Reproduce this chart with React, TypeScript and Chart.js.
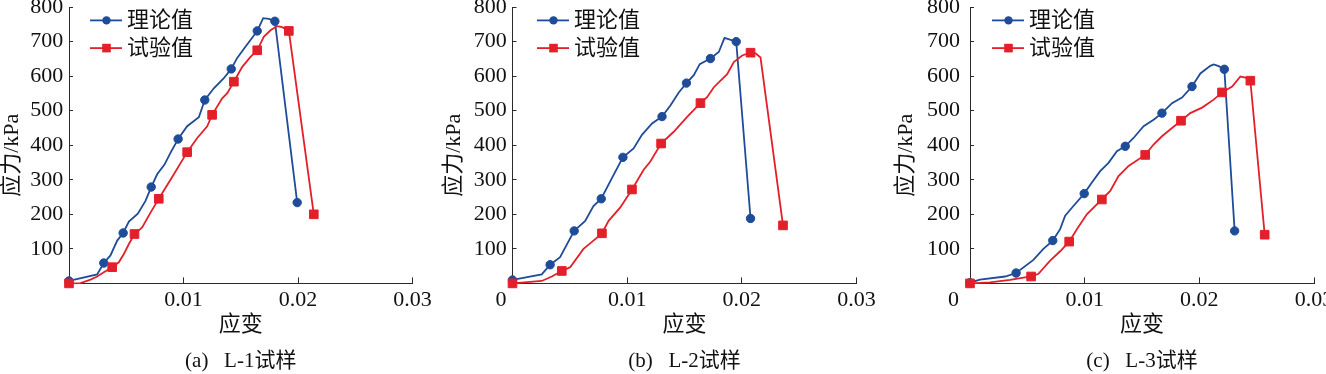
import React, { useEffect, useRef } from 'react';
import { Chart, registerables } from 'chart.js';

Chart.register(...registerables);

// ---------- data ----------
type P = [number, number];

const X_TICKS = [0, 0.01, 0.02, 0.03];
const X_TICK_LABELS = ['0', '0.01', '0.02', '0.03'];
const Y_TICKS = [0, 100, 200, 300, 400, 500, 600, 700, 800];
const Y_TICK_LABELS = ['', '100', '200', '300', '400', '500', '600', '700', '800'];
const SERIES_NAMES = ['理论值', '试验值'];
const X_TITLE = '应变';
const Y_TITLE = '应力/kPa';
const CAPTIONS = ['(a)   L-1试样', '(b)   L-2试样', '(c)   L-3试样'];

// L-1
const L1_THEORY_CURVE: P[] = [
  [0, 7], [0.00246, 26], [0.00304, 59], [0.00362, 81], [0.00421, 124], [0.00473, 146],
  [0.00523, 179], [0.00601, 202], [0.00668, 239], [0.00718, 279], [0.0077, 316],
  [0.00834, 344], [0.00886, 378], [0.00953, 418], [0.01032, 455], [0.01134, 481],
  [0.01186, 531], [0.01265, 565], [0.01352, 594], [0.01417, 621], [0.01469, 653],
  [0.01541, 685], [0.01644, 731], [0.01696, 768], [0.01745, 766], [0.01798, 759],
  [0.01993, 234],
];
const L1_THEORY_POINTS: P[] = [
  [0, 7], [0.00304, 59], [0.00473, 146], [0.00718, 279], [0.00953, 418],
  [0.01186, 531], [0.01417, 621], [0.01644, 731], [0.01798, 759], [0.01993, 234],
];
const L1_TEST_CURVE: P[] = [
  [0, 0], [0.001, 1], [0.00188, 11], [0.00246, 20], [0.00304, 32], [0.00377, 47],
  [0.00435, 61], [0.00479, 85], [0.00523, 114], [0.00572, 143], [0.00639, 162],
  [0.00712, 205], [0.00784, 245], [0.00916, 316], [0.01032, 380], [0.0112, 421],
  [0.01207, 455], [0.0125, 488], [0.01338, 536], [0.01382, 551], [0.0144, 584],
  [0.01513, 627], [0.01585, 656], [0.01644, 675], [0.01701, 714], [0.0176, 733],
  [0.01818, 745], [0.01862, 742], [0.0192, 731], [0.02138, 200],
];
const L1_TEST_POINTS: P[] = [
  [0, 0], [0.00377, 47], [0.00572, 143], [0.00784, 245], [0.01032, 380],
  [0.0125, 488], [0.0144, 584], [0.01644, 675], [0.0192, 731], [0.02138, 200],
];

// L-2
const L2_THEORY_CURVE: P[] = [
  [0, 10], [0.00255, 26], [0.00328, 54], [0.00415, 76], [0.00538, 152], [0.00634, 181],
  [0.00706, 224], [0.00774, 245], [0.00867, 305], [0.00963, 365], [0.01056, 391],
  [0.01129, 430], [0.01217, 463], [0.01304, 483], [0.01377, 515], [0.0145, 553],
  [0.01517, 580], [0.01581, 603], [0.01633, 635], [0.01726, 651], [0.01799, 670],
  [0.01849, 711], [0.01951, 700], [0.02076, 188],
];
const L2_THEORY_POINTS: P[] = [
  [0, 10], [0.00328, 54], [0.00538, 152], [0.00774, 245], [0.00963, 365],
  [0.01304, 483], [0.01517, 580], [0.01726, 651], [0.01951, 700], [0.02076, 188],
];
const L2_TEST_CURVE: P[] = [
  [0, 0], [0.00255, 7], [0.00343, 20], [0.0043, 36], [0.00503, 47], [0.00619, 100],
  [0.00706, 124], [0.0078, 145], [0.00838, 181], [0.0094, 220], [0.01042, 272],
  [0.01144, 329], [0.01202, 353], [0.01296, 405], [0.01406, 439], [0.01523, 482],
  [0.01639, 522], [0.01697, 539], [0.01756, 568], [0.01872, 606], [0.0193, 641],
  [0.02003, 660], [0.02076, 668], [0.0212, 666], [0.02163, 654], [0.02359, 168],
];
const L2_TEST_POINTS: P[] = [
  [0, 0], [0.0043, 36], [0.0078, 145], [0.01042, 272], [0.01296, 405],
  [0.01639, 522], [0.02076, 668], [0.02359, 168],
];

// L-3
const L3_THEORY_CURVE: P[] = [
  [0, 2], [0.00087, 11], [0.00306, 20], [0.00402, 30], [0.00553, 68], [0.0064, 100],
  [0.00722, 124], [0.00786, 157], [0.0083, 196], [0.00902, 224], [0.00996, 260],
  [0.01063, 292], [0.01135, 325], [0.01208, 349], [0.01281, 383], [0.01354, 397],
  [0.01426, 421], [0.01514, 455], [0.01601, 474], [0.01674, 493], [0.01762, 522],
  [0.01849, 538], [0.01936, 570], [0.02009, 608], [0.02096, 630], [0.02125, 634],
  [0.02169, 629], [0.02218, 620], [0.02308, 152],
];
const L3_THEORY_POINTS: P[] = [
  [0, 2], [0.00402, 30], [0.00722, 124], [0.00996, 260], [0.01354, 397],
  [0.01674, 493], [0.01936, 570], [0.02218, 620], [0.02308, 152],
];
const L3_TEST_CURVE: P[] = [
  [0, 0], [0.00175, 3], [0.00349, 10], [0.00533, 20], [0.00597, 28], [0.00699, 66],
  [0.00786, 93], [0.00865, 121], [0.00932, 157], [0.01019, 200], [0.0115, 243],
  [0.01223, 268], [0.01295, 311], [0.01383, 340], [0.01528, 372], [0.01601, 402],
  [0.01674, 426], [0.01762, 450], [0.0184, 471], [0.01921, 493], [0.02024, 509],
  [0.02125, 532], [0.02198, 553], [0.02286, 570], [0.02358, 599], [0.02402, 596],
  [0.02445, 587], [0.0257, 141],
];
const L3_TEST_POINTS: P[] = [
  [0, 0], [0.00533, 20], [0.00865, 121], [0.0115, 243], [0.01528, 372],
  [0.0184, 471], [0.02198, 553], [0.02445, 587], [0.0257, 141],
];

// ---------- styles / layout ----------
const BLUE = '#1E4C98';
const RED = '#E3202A';
const AXIS = '#2a2a2a';
const TEXT = '#111111';
const SERIF = '"Liberation Serif", "Times New Roman", serif';
const MIXED = '"Liberation Serif", "Noto Sans CJK SC", serif';
const H = 374;

interface PanelCfg {
  left: number; width: number; plotLeft: number; plotRight: number;
  showZero: boolean; zeroShift: number; yPad: number; yTitleDist: number;
  legendShift: number; caption: string;
  theory: P[]; theoryPts: P[]; test: P[]; testPts: P[];
}

const PANELS: PanelCfg[] = [
  { left: 0, width: 440, plotLeft: 69, plotRight: 412.5, showZero: false, zeroShift: 0, yPad: 9.7, yTitleDist: 57,
    legendShift: 21, caption: CAPTIONS[0], theory: L1_THEORY_CURVE, theoryPts: L1_THEORY_POINTS, test: L1_TEST_CURVE, testPts: L1_TEST_POINTS },
  { left: 440, width: 440, plotLeft: 72.5, plotRight: 416.5, showZero: true, zeroShift: 11.6, yPad: 9.8, yTitleDist: 58.5,
    legendShift: 24.5, caption: CAPTIONS[1], theory: L2_THEORY_CURVE, theoryPts: L2_THEORY_POINTS, test: L2_TEST_CURVE, testPts: L2_TEST_POINTS },
  { left: 880, width: 446, plotLeft: 90, plotRight: 434, showZero: true, zeroShift: 16.5, yPad: 14, yTitleDist: 64,
    legendShift: 22, caption: CAPTIONS[2], theory: L3_THEORY_CURVE, theoryPts: L3_THEORY_POINTS, test: L3_TEST_CURVE, testPts: L3_TEST_POINTS },
];

const overlayPlugin = {
  id: 'overlay',
  afterDraw(chart: any, _args: any, opts: any) {
    const { ctx, chartArea, scales } = chart;
    // y-axis title
    ctx.save();
    ctx.translate(chartArea.left - opts.yTitleDist, (chartArea.top + chartArea.bottom) / 2 + 10);
    ctx.rotate(-Math.PI / 2);
    ctx.font = `22px ${MIXED}`;
    ctx.fillStyle = TEXT;
    ctx.textAlign = 'center';
    ctx.textBaseline = 'middle';
    ctx.fillText(Y_TITLE, 0, 0);
    ctx.restore();

    // zero label of x axis
    if (opts.showZero) {
      ctx.save();
      ctx.font = `22px ${SERIF}`;
      ctx.fillStyle = TEXT;
      ctx.textAlign = 'center';
      ctx.textBaseline = 'middle';
      ctx.fillText(X_TICK_LABELS[0], scales.x.getPixelForValue(X_TICKS[0]) - opts.zeroShift, chartArea.bottom + 17);
      ctx.restore();
    }

    // legend
    const colors = [BLUE, RED];
    const rows = [13.3, 41];
    SERIES_NAMES.forEach((name, i) => {
      const y = chartArea.top + rows[i];
      const x0 = chartArea.left + opts.legendShift;
      ctx.save();
      ctx.strokeStyle = colors[i];
      ctx.fillStyle = colors[i];
      ctx.lineWidth = 1.8;
      ctx.beginPath();
      ctx.moveTo(x0, y);
      ctx.lineTo(x0 + 32, y);
      ctx.stroke();
      const mx = x0 + 16.5;
      if (i === 0) {
        ctx.beginPath();
        ctx.arc(mx, y, 4.2, 0, Math.PI * 2);
        ctx.fill();
      } else {
        ctx.fillRect(mx - 4.3, y - 4.3, 8.6, 8.6);
      }
      ctx.font = `22px ${MIXED}`;
      ctx.fillStyle = TEXT;
      ctx.textAlign = 'left';
      ctx.textBaseline = 'middle';
      ctx.fillText(name, x0 + 37, y + 1);
      ctx.restore();
    });
  },
};

function toXY(arr: P[]) {
  return arr.map(([x, y]) => ({ x, y }));
}

function buildConfig(cfg: PanelCfg): any {
  const lineDs = (data: P[], color: string, order: number) => ({
    data: toXY(data), showLine: true, borderColor: color, borderWidth: 1.8,
    pointRadius: 0, pointHoverRadius: 0, tension: 0, clip: false, order,
  });
  const markDs = (data: P[], color: string, style: string, r: number, order: number) => ({
    data: toXY(data), showLine: false, backgroundColor: color, borderColor: color, borderWidth: 1,
    pointStyle: style, pointRadius: r, pointHoverRadius: r, clip: false, order,
  });
  return {
    type: 'scatter',
    data: {
      datasets: [
        lineDs(cfg.theory, BLUE, 3),
        markDs(cfg.theoryPts, BLUE, 'circle', 4.2, 2),
        lineDs(cfg.test, RED, 1),
        markDs(cfg.testPts, RED, 'rect', 6.1, 0),
      ],
    },
    plugins: [overlayPlugin],
    options: {
      animation: false,
      responsive: false,
      devicePixelRatio: 1,
      events: [],
      layout: { padding: { left: 0, top: 4, right: cfg.width - cfg.plotRight, bottom: 0 } },
      plugins: {
        legend: { display: false },
        tooltip: { enabled: false },
        title: {
          display: true, position: 'bottom', fullSize: false, text: cfg.caption,
          color: TEXT, font: { family: MIXED, size: 21, weight: 'normal', lineHeight: 1.2 },
          padding: { top: 4.4, bottom: 0 },
        },
        overlay: {
          showZero: cfg.showZero, zeroShift: cfg.zeroShift, yTitleDist: cfg.yTitleDist, legendShift: cfg.legendShift,
        },
      },
      scales: {
        x: {
          type: 'linear', min: 0, max: 0.03,
          afterBuildTicks: (s: any) => { s.ticks = X_TICKS.map((v) => ({ value: v })); },
          afterFit: (s: any) => { s.height = 61; s.paddingLeft = 0; s.paddingRight = 0; },
          ticks: {
            autoSkip: false, maxRotation: 0, padding: 9.5, color: TEXT,
            font: { family: SERIF, size: 22 },
            callback: (_v: any, i: number) => (i === 0 ? '' : X_TICK_LABELS[i]),
          },
          grid: { drawOnChartArea: false, drawTicks: true, tickLength: -6, color: AXIS, lineWidth: 1 },
          border: { display: true, color: AXIS, width: 1 },
          title: {
            display: true, text: X_TITLE, color: TEXT,
            font: { family: MIXED, size: 22, lineHeight: 1.2 }, padding: { top: 0, bottom: 5.8 },
          },
        },
        y: {
          type: 'linear', min: 0, max: 800,
          afterBuildTicks: (s: any) => { s.ticks = Y_TICKS.map((v) => ({ value: v })); },
          afterFit: (s: any) => { s.width = cfg.plotLeft; s.paddingTop = 0; s.paddingBottom = 0; },
          ticks: {
            autoSkip: false, padding: cfg.yPad, color: TEXT,
            font: { family: SERIF, size: 22 },
            callback: (_v: any, i: number) => Y_TICK_LABELS[i],
          },
          grid: { drawOnChartArea: false, drawTicks: true, tickLength: -4, color: AXIS, lineWidth: 1 },
          border: { display: true, color: AXIS, width: 1 },
          title: { display: false },
        },
      },
    },
  };
}

function Panel({ cfg }: { cfg: PanelCfg }) {
  const ref = useRef<HTMLCanvasElement>(null);
  useEffect(() => {
    const chart = new Chart(ref.current as HTMLCanvasElement, buildConfig(cfg));
    return () => chart.destroy();
  }, [cfg]);
  return (
    <canvas
      ref={ref}
      width={cfg.width}
      height={H}
      style={{ position: 'absolute', left: cfg.left, top: 0, width: cfg.width, height: H, display: 'block' }}
    />
  );
}

export default function App() {
  return (
    <div style={{ position: 'absolute', left: 0, top: 0, width: 1326, height: H, background: '#ffffff', overflow: 'hidden' }}>
      {PANELS.map((p, i) => (
        <Panel key={i} cfg={p} />
      ))}
    </div>
  );
}
